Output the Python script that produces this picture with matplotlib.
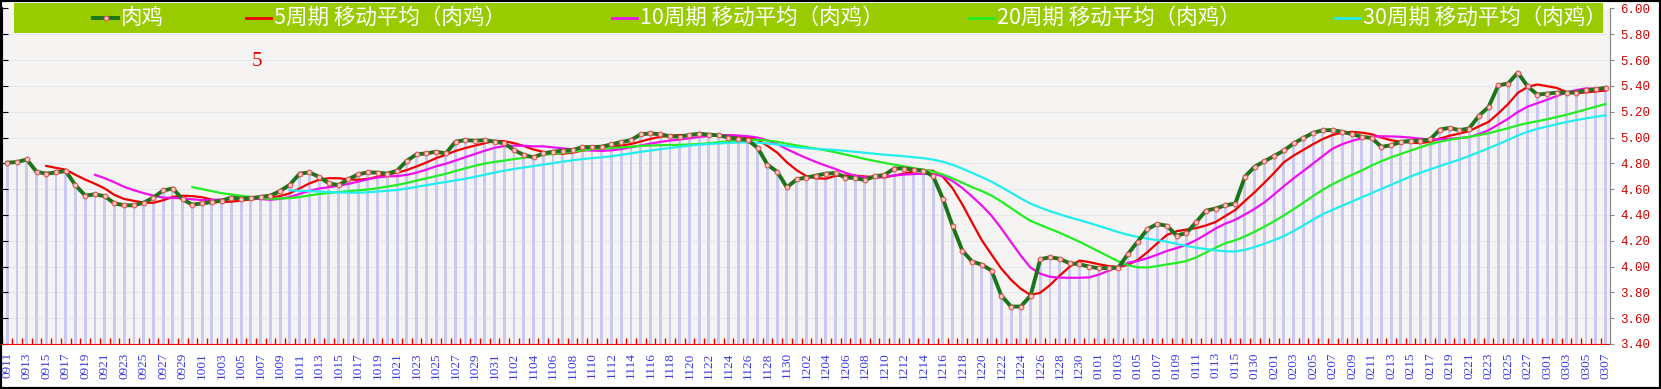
import numpy as np
import pandas as pd
import matplotlib
matplotlib.use("Agg")
import matplotlib.pyplot as plt
from matplotlib.lines import Line2D
from matplotlib.patches import Rectangle

# daily dates (MMDD); trading gap over the Spring Festival 0117-0129
DATES = ([d.strftime("%m%d") for d in pd.date_range("2022-09-11", "2023-01-16")]
         + [d.strftime("%m%d") for d in pd.date_range("2023-01-30", "2023-03-07")])

# 肉鸡 price
PRICE = [
    4.805, 4.81, 4.83, 4.735, 4.72, 4.73, 4.74, 4.63, 4.55, 4.56,       # 0911-
    4.545, 4.49, 4.475, 4.475, 4.495, 4.535, 4.59, 4.605, 4.52, 4.48,
    4.49, 4.50, 4.51, 4.535, 4.527, 4.53, 4.54, 4.55, 4.585, 4.635,     # 1001-
    4.72, 4.73, 4.695, 4.645, 4.632, 4.676, 4.715, 4.73, 4.728, 4.72,
    4.743, 4.82, 4.87, 4.877, 4.89, 4.877, 4.968, 4.98, 4.975, 4.98,
    4.968,
    4.955, 4.903, 4.865, 4.846, 4.877, 4.89, 4.898, 4.903, 4.926, 4.926,  # 1101-
    4.929, 4.947, 4.965, 4.98, 5.025, 5.032, 5.025, 5.01, 5.006, 5.02,
    5.03, 5.022, 5.017, 5.00, 4.99, 4.98, 4.92, 4.79, 4.735, 4.614,
    4.676, 4.69, 4.705, 4.72, 4.725, 4.69, 4.686, 4.67, 4.70, 4.71,      # 1201-
    4.76, 4.76, 4.75, 4.743, 4.70, 4.527, 4.315, 4.124, 4.039, 4.015,
    3.969, 3.775, 3.69, 3.69, 3.775, 4.057, 4.072, 4.06, 4.026, 4.018,
    4.00,
    3.987, 3.99, 3.99, 4.098, 4.194, 4.29, 4.33, 4.316, 4.24, 4.26,      # 0101-
    4.345, 4.433, 4.45, 4.475, 4.488, 4.697,
    4.774, 4.816,                                                       # 0130-
    4.857, 4.90, 4.954, 4.997, 5.036, 5.057, 5.057, 5.044, 5.026, 5.005,  # 0201-
    4.997, 4.928, 4.94, 4.966, 4.974, 4.974, 4.985, 5.062, 5.075, 5.057,
    5.07, 5.168, 5.237, 5.405, 5.418, 5.503, 5.397, 5.333,
    5.34, 5.348, 5.348, 5.348, 5.366, 5.374, 5.385,                     # 0301-
]

MA_PERIODS = [5, 10, 20, 30]
MA_COLOURS = ["#ee0000", "#ee11ee", "#22ee22", "#22eeee"]
YTICKS = np.arange(3.4, 6.01, 0.2)

x = np.arange(len(PRICE))
s = pd.Series(PRICE)

fig = plt.figure(figsize=(16.61, 3.89), dpi=100)
fig.patch.set_facecolor("white")

ax = fig.add_axes([2.4 / 1661, 45 / 389, 1608 / 1661, 335.5 / 389])
ax.set_facecolor("#f5f4f2")
ax.set_xlim(-0.5, len(PRICE) - 0.5)
ax.set_ylim(3.4, 6.0)

for yv in YTICKS:
    ax.axhline(yv, color="#e6e6ee", lw=0.8, zorder=0)

ax.bar(x, np.array(PRICE) - 3.4, bottom=3.4, width=0.3,
       color="#c9c9f3", zorder=1)

for p, c in zip(MA_PERIODS, MA_COLOURS):
    ax.plot(x, s.rolling(p).mean(), color=c, lw=1.6, zorder=3)

ax.plot(x, PRICE, color="#1a741a", lw=2.8, zorder=4,
        marker="o", ms=3.4, mfc="#ffc8c8", mec="#e05555", mew=0.8)

# axes styling
ax.spines["top"].set_visible(False)
ax.spines["left"].set_color("black")
ax.spines["left"].set_linewidth(1.5)
ax.spines["bottom"].set_color("#ee0000")
ax.spines["right"].set_color("#888888")

ax.set_yticks(YTICKS)
ax.tick_params(axis="y", left=True, right=False, labelleft=False,
               direction="in", length=4, color="black")
ax.set_xticks(x[::2])
ax.set_xticklabels(DATES[::2], rotation=90, color="#3a3ae8",
                   fontsize=9.5, family="Liberation Serif")
ax.set_xticks(x - 0.5, minor=True)
ax.tick_params(axis="x", which="major", length=0, pad=6)
ax.tick_params(axis="x", which="minor", direction="in", length=4,
               color="#ee0000", width=1)

ax2 = ax.twinx()
ax2.set_ylim(3.4, 6.0)
ax2.set_yticks(YTICKS)
ax2.set_yticklabels([f"{v:.2f}" for v in YTICKS], color="#cc0000",
                    fontsize=9, family="Liberation Mono")
ax2.tick_params(axis="y", length=3, color="#888888", pad=4)
for side in ("top", "left", "bottom"):
    ax2.spines[side].set_visible(False)
ax2.spines["right"].set_color("#888888")

ax.text(257 / 1661, 1 - 61 / 389, "5", transform=fig.transFigure,
        color="#e00000", fontsize=15, family="Liberation Serif",
        ha="center", va="center")

# legend band
fig.patches.append(Rectangle((14 / 1661, 1 - 33 / 389), 1589 / 1661, 30 / 389,
                             transform=fig.transFigure, facecolor="#99cc00",
                             edgecolor="none", zorder=5))
entries = [("肉鸡", "#1a741a", 93),
           ("5周期 移动平均（肉鸡）", MA_COLOURS[0], 246),
           ("10周期 移动平均（肉鸡）", MA_COLOURS[1], 612),
           ("20周期 移动平均（肉鸡）", MA_COLOURS[2], 969),
           ("30周期 移动平均（肉鸡）", MA_COLOURS[3], 1335)]
ly = 1 - 18 / 389
for i, (lab, col, x0) in enumerate(entries):
    if i == 0:
        fig.lines.append(Line2D([x0 / 1661, (x0 + 25) / 1661], [ly, ly],
                                transform=fig.transFigure, color=col, lw=2.8,
                                zorder=6))
        fig.lines.append(Line2D([(x0 + 12.5) / 1661], [ly], transform=fig.transFigure,
                                marker="o", ms=3.4, mfc="#ffc8c8", mec="#e05555",
                                mew=0.8, zorder=7))
    else:
        fig.lines.append(Line2D([x0 / 1661, (x0 + 25) / 1661], [ly, ly],
                                transform=fig.transFigure, color=col, lw=2,
                                zorder=6))
    fig.text((x0 + 28) / 1661, ly, lab, color="white", fontsize=15.5,
             family=["Noto Sans CJK SC", "DejaVu Sans"], ha="left",
             va="center", zorder=7)

# outer frame
fig.patches.append(Rectangle((0, 0), 1, 1, transform=fig.transFigure,
                             facecolor="none", edgecolor="black", lw=3, zorder=10))

fig.savefig("out.png", dpi=100)
